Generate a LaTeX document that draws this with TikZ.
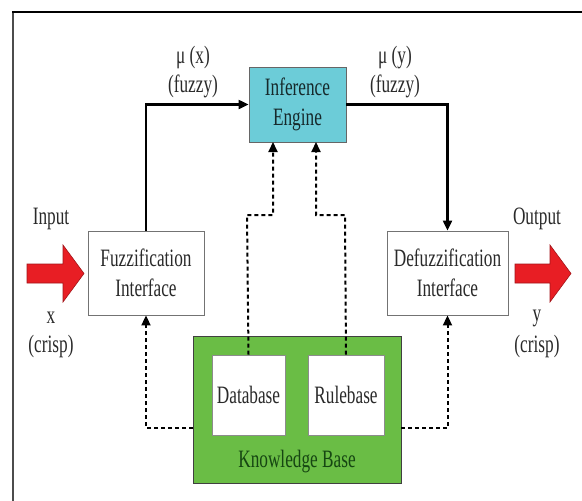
\documentclass[tikz,border=0pt]{standalone}
\usepackage{fontspec}
\setmainfont[FakeStretch=0.69]{Liberation Serif}
\usetikzlibrary{arrows.meta}
\definecolor{engine}{RGB}{108,204,216}
\definecolor{kbgreen}{RGB}{106,189,69}
\definecolor{kbtext}{RGB}{22,70,18}
\definecolor{arrowred}{RGB}{232,30,36}
\definecolor{txt}{RGB}{42,42,42}
\tikzset{
  blockbox/.style={draw=black!55, line width=0.9pt, fill=white, align=center,
    text=txt, inner sep=0pt},
  label/.style={align=center, text=txt, inner sep=0pt},
  flow/.style={line width=2.2pt, -{Triangle[length=10pt,width=9pt]}},
  dataflow/.style={line width=2pt, dash pattern=on 4pt off 3pt,
    -{Triangle[length=10pt,width=9pt]}},
  bigarrow/.style={fill=arrowred, draw=arrowred!70!black, line width=0.6pt},
}
\begin{document}
\begin{tikzpicture}[x=1pt,y=-1pt,font=\fontsize{25}{29.5}\selectfont]
\useasboundingbox (0,0) rectangle (582,501);
% outer frame
\draw[line width=2pt, black!70] (13,12) -- (13,501);
\draw[line width=2.4pt, black] (12,12) -- (582,12);

% main blocks
\node[blockbox, fill=engine, draw=black!60, text=black!80!engine,
  minimum width=97pt, minimum height=75pt] (ie) at (297.5,104.5)
  {Inference\\Engine};
\node[blockbox, minimum width=116pt, minimum height=84pt] (fz) at (146,273)
  {Fuzzification\\Interface};
\node[blockbox, minimum width=121pt, minimum height=84pt] (dfz) at (447.5,273)
  {Defuzzification\\Interface};
\node[draw=black!75, line width=0.9pt, fill=kbgreen, minimum width=208pt,
  minimum height=147pt] (kb) at (297,409.5) {};
\node[text=kbtext, inner sep=0pt] (kbl) at (297,462) {Knowledge Base};
\node[blockbox, draw=black!45, minimum width=73pt, minimum height=80pt]
  (db) at (248.5,395) {Database};
\node[blockbox, draw=black!45, minimum width=76pt, minimum height=80pt]
  (rb) at (346,395) {Rulebase};

% membership labels
\node[label] (mux) at (193,72) {μ (x)\\(fuzzy)};
\node[label] (muy) at (395,72) {μ (y)\\(fuzzy)};

% crisp input / output labels
\node[label] (inl) at (51,219) {Input};
\node[label] (inx) at (51,318) {x};
\node[label] (inc) at (51,346) {(crisp)};
\node[label] (outl) at (537,219) {Output};
\node[label] (outy) at (537,318) {y};
\node[label] (outc) at (537,346) {(crisp)};

% red input / output arrows
\draw[bigarrow] (27,264) -- (63,264) -- (63,245) -- (84,273.5) -- (63,302)
  -- (63,283) -- (27,283) -- cycle;
\draw[bigarrow] (515,264) -- (550,264) -- (550,245) -- (571,273.5) -- (550,302)
  -- (550,283) -- (515,283) -- cycle;

% fuzzy signal flow
\draw[flow] (fz.north) |- (ie.west);
\draw[flow] (ie.east) -| (dfz.north);

% knowledge base links
\coordinate (dbturn) at (247,215);
\coordinate (rbturn) at (345,215);
\coordinate (ieinl) at (273,142);
\coordinate (ieinr) at (316,142);
\draw[dataflow] (db.north) -- (dbturn) -| (ieinl);
\draw[dataflow] (rb.north) -- (rbturn) -| (ieinr);
\coordinate (kbl0) at (193,428);
\coordinate (kbr0) at (401,428);
\draw[dataflow] (kbl0) -| (fz.south);
\draw[dataflow] (kbr0) -| (dfz.south);
\end{tikzpicture}
\end{document}
